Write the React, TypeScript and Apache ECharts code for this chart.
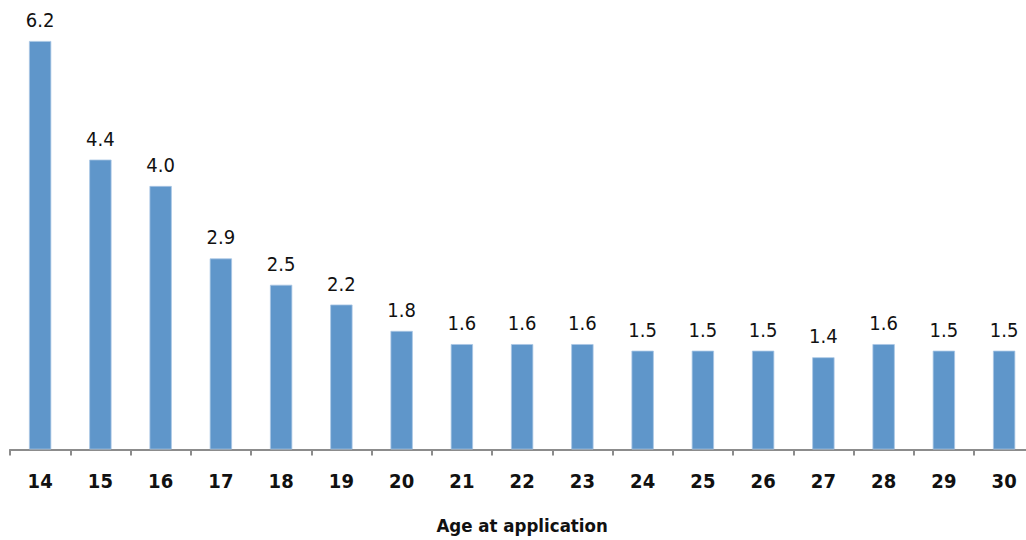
import React, { useEffect, useRef } from "react";
import * as echarts from "echarts";

const categories = ["14","15","16","17","18","19","20","21","22","23","24","25","26","27","28","29","30"];
const values = [6.2, 4.4, 4.0, 2.9, 2.5, 2.2, 1.8, 1.6, 1.6, 1.6, 1.5, 1.5, 1.5, 1.4, 1.6, 1.5, 1.5];
const axisTitle = "Age at application";

const FONT = "'Liberation Sans Narrow', 'DejaVu Sans Condensed', sans-serif";

export default function App() {
  const ref = useRef<HTMLDivElement>(null);
  useEffect(() => {
    if (!ref.current) return;
    const chart = echarts.init(ref.current, undefined, { renderer: "svg" });
    chart.setOption({
      animation: false,
      grid: { left: 10, right: 5.75, top: 41, bottom: 90.5, containLabel: false },
      xAxis: {
        type: "category",
        data: categories,
        name: axisTitle,
        nameLocation: "middle",
        nameGap: 66,
        nameTextStyle: { fontFamily: FONT, fontWeight: "bold", fontSize: 18.5, color: "#111" },
        axisLine: { lineStyle: { color: "#8c8c8c", width: 2 } },
        axisTick: { show: true, length: 6, lineStyle: { color: "#8c8c8c", width: 2 } },
        axisLabel: { fontFamily: FONT, fontWeight: "bold", fontSize: 20, color: "#111", margin: 21 },
      },
      yAxis: {
        type: "value",
        min: 0,
        max: 6.2,
        show: false,
        splitLine: { show: false },
      },
      series: [
        {
          type: "bar",
          data: values,
          barWidth: "37%",
          itemStyle: { color: "#5f96ca", borderColor: "#a9c6e4", borderWidth: 0.8 },
          label: {
            show: true,
            position: "top",
            distance: 11,
            formatter: (p: any) => Number(p.value).toFixed(1),
            fontFamily: FONT,
            fontSize: 20,
            color: "#111",
          },
        },
      ],
    });
    return () => chart.dispose();
  }, []);
  return (
    <div style={{ position: "fixed", left: 0, top: 0, width: 1026, height: 540, overflow: "hidden", background: "#fff" }}>
      <div ref={ref} style={{ position: "absolute", left: 0, top: 0, width: 1040, height: 540 }} />
    </div>
  );
}
